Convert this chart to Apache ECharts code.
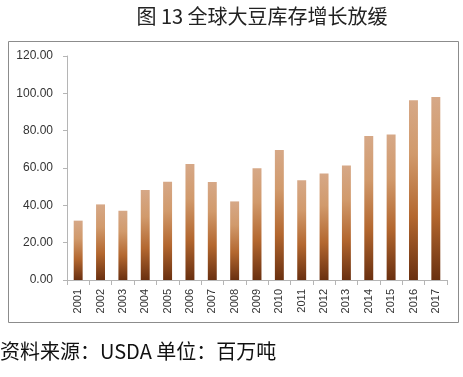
<!DOCTYPE html>
<html>
<head>
<meta charset="utf-8">
<script src="https://cdn.jsdelivr.net/npm/echarts@6/dist/echarts.min.js"></script>
<style>
  html, body { margin: 0; padding: 0; background: #fff; }
  #main { width: 463px; height: 377px; }
</style>
</head>
<body>
<div id="main"></div>
<script>
// 全球大豆库存, 百万吨
var years = ['2001', '2002', '2003', '2004', '2005', '2006', '2007', '2008', '2009',
             '2010', '2011', '2012', '2013', '2014', '2015', '2016', '2017'];
var stocks = [31.8, 40.5, 37.1, 48.2, 52.7, 62.1, 52.5, 42.1, 59.8,
              69.6, 53.4, 57.0, 61.4, 77.1, 77.9, 96.3, 98.0];

var chart = echarts.init(document.getElementById('main'));

var barColor = new echarts.graphic.LinearGradient(0, 0, 0, 1, [
  { offset: 0, color: '#d6a887' },
  { offset: 0.3, color: '#d19a6c' },
  { offset: 0.65, color: '#b3672f' },
  { offset: 1, color: '#6a3010' }
]);

var option = {
  animation: false,
  backgroundColor: '#fff',
  title: {
    text: '图 13 全球大豆库存增长放缓',
    left: 257,
    top: 1,
    textAlign: 'center',
    textStyle: {
      fontFamily: 'Noto Sans CJK SC',
      fontSize: 20,
      fontWeight: 'normal',
      color: '#222'
    }
  },
  graphic: [
    {
      type: 'rect',
      shape: { x: 8.5, y: 41.5, width: 450, height: 281 },
      style: { fill: 'none', stroke: '#8c8c8c', lineWidth: 1 },
      z: -1
    },
    {
      type: 'text',
      left: 0,
      top: 341,
      style: {
        text: '资料来源：USDA 单位：百万吨',
        fontFamily: 'Noto Sans CJK SC',
        fontSize: 20,
        fill: '#111'
      }
    }
  ],
  grid: { left: 67, right: 16, top: 56, bottom: 97 },
  xAxis: {
    type: 'category',
    data: years,
    axisLine: { lineStyle: { color: '#b5b5b5' } },
    axisTick: { show: true, alignWithLabel: false, length: 5, lineStyle: { color: '#b5b5b5' } },
    axisLabel: {
      rotate: 90,
      interval: 0,
      margin: 9,
      fontFamily: 'Liberation Sans',
      fontSize: 11,
      color: '#333'
    }
  },
  yAxis: {
    type: 'value',
    min: 0,
    max: 120,
    interval: 20,
    splitLine: { show: false },
    axisLine: { show: true, lineStyle: { color: '#b5b5b5' } },
    axisTick: { show: true, length: 4, lineStyle: { color: '#b5b5b5' } },
    axisLabel: {
      margin: 14,
      fontFamily: 'Liberation Sans',
      fontSize: 12,
      color: '#333',
      formatter: function (v) { return v.toFixed(2); }
    }
  },
  series: [
    {
      type: 'bar',
      data: stocks,
      barWidth: '40%',
      itemStyle: { color: barColor }
    }
  ]
};

chart.setOption(option);
</script>
</body>
</html>
